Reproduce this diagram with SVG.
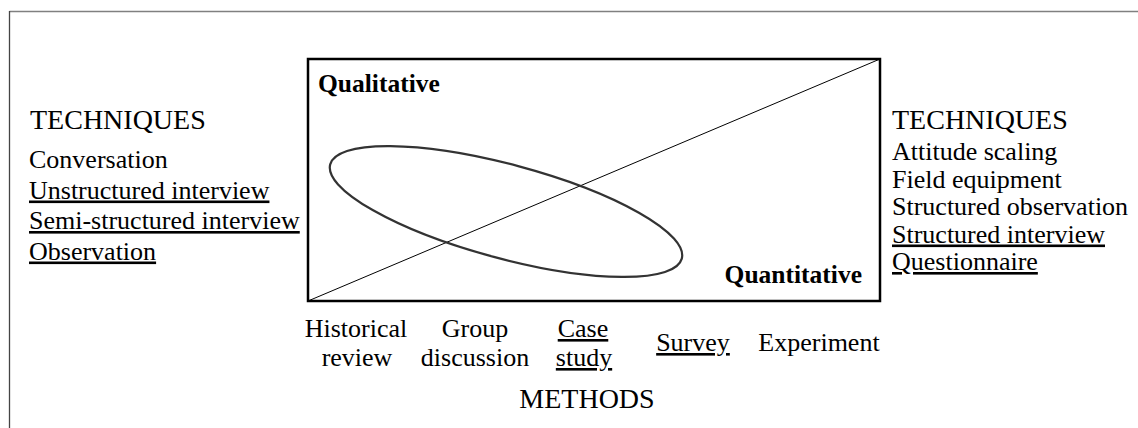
<svg xmlns="http://www.w3.org/2000/svg" width="1138" height="428" viewBox="0 0 1138 428">
  <style>
    text { font-family: "Liberation Serif", "Times New Roman", serif; fill: #000; }
    .title { font-size: 28px; }
    .item { font-size: 26px; }
    .bold { font-size: 25.5px; font-weight: bold; }
    .u { text-decoration: underline; }
    .mid { text-anchor: middle; }
  </style>

  <!-- page frame -->
  <g id="frame" fill="none">
    <line x1="9.5" y1="11.5" x2="1138" y2="11.5" stroke="#808080" stroke-width="1.5"/>
    <line x1="9.5" y1="11" x2="9.5" y2="428" stroke="#444" stroke-width="1.3"/>
  </g>

  <!-- central continuum box -->
  <g id="continuum">
    <rect x="308" y="59" width="572" height="242" fill="#fff" stroke="#000" stroke-width="2.5"/>
    <text class="bold" x="318" y="92">Qualitative</text>
    <text class="bold" x="862" y="283" text-anchor="end">Quantitative</text>
  </g>

  <!-- diagonal and overlap ellipse -->
  <g id="connectors" fill="none">
    <line x1="308" y1="301" x2="880" y2="59" stroke="#000" stroke-width="1"/>
    <ellipse cx="506" cy="211.5" rx="182" ry="47" transform="rotate(15 506 211.5)" stroke="#333" stroke-width="2.2"/>
  </g>

  <!-- qualitative techniques -->
  <g id="techniques-left">
    <text class="title" x="30" y="129">TECHNIQUES</text>
    <text class="item" x="29" y="168">Conversation</text>
    <text class="item u" x="29" y="198.5">Unstructured interview</text>
    <text class="item u" x="29" y="229">Semi-structured interview</text>
    <text class="item u" x="29" y="259.5">Observation</text>
  </g>

  <!-- quantitative techniques -->
  <g id="techniques-right">
    <text class="title" x="892" y="129">TECHNIQUES</text>
    <text class="item" x="892" y="160">Attitude scaling</text>
    <text class="item" x="892" y="187.5">Field equipment</text>
    <text class="item" x="892" y="215">Structured observation</text>
    <text class="item u" x="892" y="242.5">Structured interview</text>
    <text class="item u" x="892" y="270">Questionnaire</text>
  </g>

  <!-- methods along the base -->
  <g id="methods">
    <text class="item mid" x="356" y="337">Historical</text>
    <text class="item mid" x="357" y="366">review</text>
    <text class="item mid" x="475" y="337">Group</text>
    <text class="item mid" x="475" y="366">discussion</text>
    <text class="item mid u" x="583" y="337">Case</text>
    <text class="item mid u" x="584" y="366">study</text>
    <text class="item mid u" x="693" y="351">Survey</text>
    <text class="item mid" x="819" y="351">Experiment</text>
    <text class="title mid" x="587" y="408">METHODS</text>
  </g>
</svg>
